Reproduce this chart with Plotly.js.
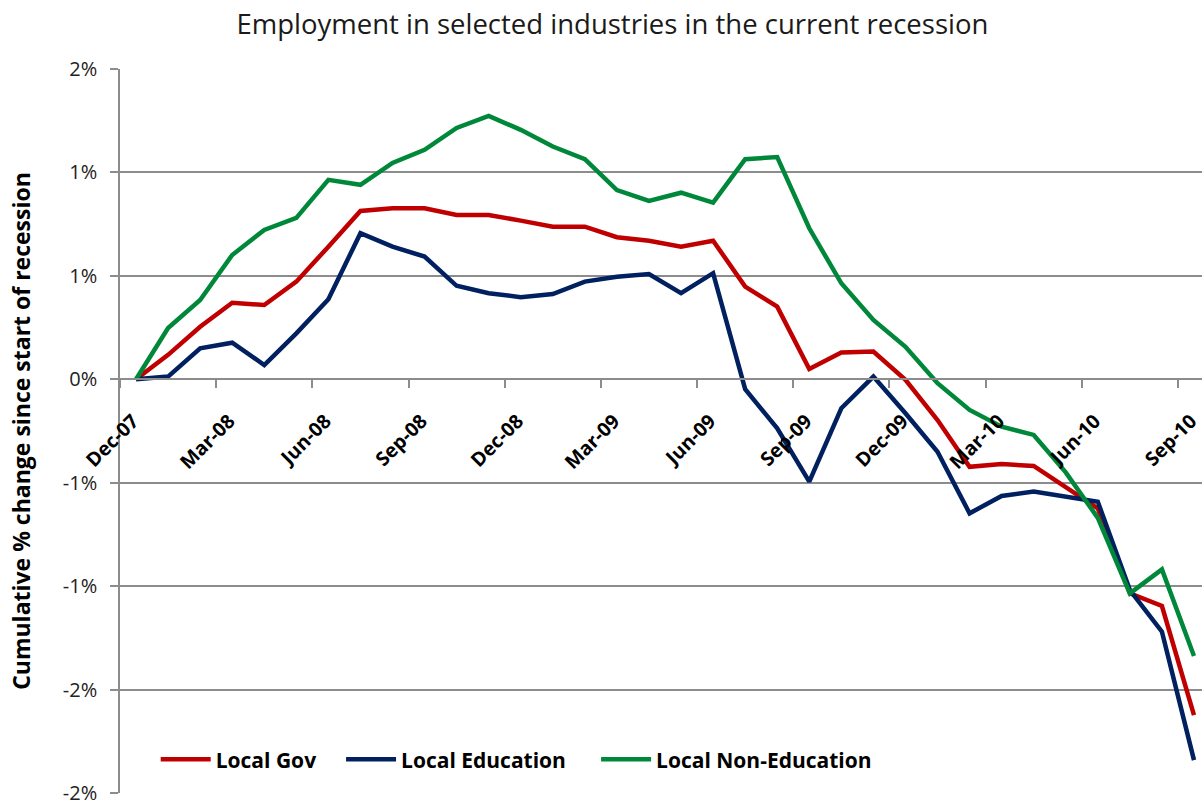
<!DOCTYPE html>
<html>
<head>
<meta charset="utf-8">
<script src="https://cdn.plot.ly/plotly-3.0.1.min.js"></script>
<style>
html,body{margin:0;padding:0;background:#fff;}
#chart{width:1202px;height:805px;}
</style>
</head>
<body>
<div id="chart"></div>
<script>
// Months (categories), Dec-07 .. Sep-10
const months = ["Dec-07","Jan-08","Feb-08","Mar-08","Apr-08","May-08","Jun-08","Jul-08","Aug-08","Sep-08","Oct-08","Nov-08",
  "Dec-08","Jan-09","Feb-09","Mar-09","Apr-09","May-09","Jun-09","Jul-09","Aug-09","Sep-09","Oct-09","Nov-09",
  "Dec-09","Jan-10","Feb-10","Mar-10","Apr-10","May-10","Jun-10","Jul-10","Aug-10","Sep-10"];

// Cumulative % change since start of recession
const localGov = [0, 0.118, 0.254, 0.370, 0.359, 0.472, 0.641, 0.814, 0.827, 0.827, 0.794, 0.794,
  0.767, 0.738, 0.738, 0.687, 0.670, 0.641, 0.670, 0.448, 0.351, 0.050, 0.129, 0.134,
  -0.003, -0.197, -0.423, -0.410, -0.419, -0.519, -0.624, -1.035, -1.096, -1.623];
const localEducation = [0, 0.013, 0.150, 0.177, 0.069, 0.222, 0.387, 0.706, 0.641, 0.593, 0.452, 0.416,
  0.397, 0.412, 0.472, 0.496, 0.509, 0.416, 0.513, -0.048, -0.237, -0.495, -0.140, 0.013,
  -0.164, -0.350, -0.648, -0.564, -0.543, -0.568, -0.592, -1.019, -1.220, -1.841];
const localNonEducation = [0, 0.248, 0.383, 0.601, 0.722, 0.780, 0.964, 0.940, 1.046, 1.109, 1.215, 1.273,
  1.206, 1.125, 1.064, 0.915, 0.862, 0.902, 0.854, 1.064, 1.074, 0.730, 0.464, 0.287,
  0.157, -0.019, -0.148, -0.229, -0.269, -0.450, -0.670, -1.035, -0.919, -1.338];

const seriesNames = ["Local Gov", "Local Education", "Local Non-Education"];
const seriesColors = ["#C00000", "#002060", "#00883A"];

const xTickVals = ["Dec-07","Mar-08","Jun-08","Sep-08","Dec-08","Mar-09","Jun-09","Sep-09","Dec-09","Mar-10","Jun-10","Sep-10"];
const yTickVals = [-2, -1.5, -1, -0.5, 0, 0.5, 1, 1.5];
const yTickText = ["-2%", "-2%", "-1%", "-1%", "0%", "1%", "1%", "2%"];

const FONT = "Open Sans, Lato, sans-serif";
const legendIds = ["legend", "legend2", "legend3"];
const legendX = [0.033, 0.2043, 0.440];

const traces = [localGov, localEducation, localNonEducation].map((vals, k) => ({
  type: "scatter",
  mode: "lines",
  x: months,
  y: vals,
  name: seriesNames[k],
  legend: legendIds[k],
  line: {color: seriesColors[k], width: 4.5},
  hoverinfo: "x+y+name"
}));

function legendBox(x) {
  return {
    orientation: "h",
    x: x, xanchor: "left",
    y: 0.046, yanchor: "middle",
    font: {family: FONT, size: 21, color: "#000", weight: "bold"},
    bgcolor: "rgba(255,255,255,0)",
    itemwidth: 50,
    tracegroupgap: 0
  };
}

const layout = {
  width: 1202,
  height: 805,
  margin: {l: 120, r: 0, t: 69, b: 12},
  paper_bgcolor: "#ffffff",
  plot_bgcolor: "#ffffff",
  title: {
    text: "Employment in selected industries in the current recession",
    font: {family: FONT, size: 27.5, color: "#1a1a1a"},
    x: 0.5095, xanchor: "center", xref: "container",
    y: 0.97, yanchor: "middle", yref: "container"
  },
  showlegend: true,
  legend: legendBox(legendX[0]),
  legend2: legendBox(legendX[1]),
  legend3: legendBox(legendX[2]),
  xaxis: {
    type: "category",
    range: [-0.5, 33.25],
    tickmode: "array",
    tickvals: xTickVals,
    ticktext: xTickVals,
    tickson: "boundaries",
    ticks: "outside",
    ticklen: 8,
    tickwidth: 1.5,
    tickcolor: "#8c8c8c",
    tickangle: -45,
    ticklabelstandoff: 22,
    ticklabelshift: -3,
    tickfont: {family: FONT, size: 19.5, color: "#000", weight: "bold"},
    showgrid: false,
    zeroline: false,
    showline: true,
    linecolor: "#8c8c8c",
    linewidth: 1.5,
    anchor: "free",
    position: 2 / 3.5,
    fixedrange: true
  },
  yaxis: {
    range: [-2, 1.5],
    tickmode: "array",
    tickvals: yTickVals,
    ticktext: yTickText,
    ticks: "outside",
    ticklen: 8,
    tickwidth: 1.5,
    tickcolor: "#8c8c8c",
    ticklabelstandoff: 9,
    ticklabeloverflow: "allow",
    tickfont: {family: FONT, size: 20, color: "#222"},
    showgrid: true,
    gridcolor: "#8c8c8c",
    gridwidth: 1.5,
    zeroline: false,
    showline: true,
    linecolor: "#8c8c8c",
    linewidth: 1.5,
    title: {
      text: "Cumulative % change since start of recession",
      font: {family: FONT, size: 23, color: "#000", weight: "bold"},
      standoff: 26
    },
    fixedrange: true
  }
};

Plotly.newPlot("chart", traces, layout, {displayModeBar: false, staticPlot: false});
</script>
</body>
</html>
